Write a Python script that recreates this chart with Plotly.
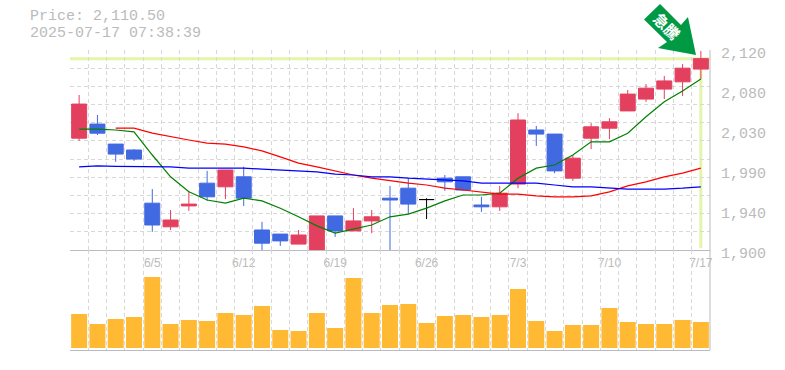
import plotly.graph_objects as go

dates = ["5/30","6/2","6/3","6/4","6/5","6/6","6/9","6/10","6/11","6/12","6/13","6/16","6/17","6/18","6/19","6/20","6/23","6/24","6/25","6/26","6/27","6/30","7/1","7/2","7/3","7/4","7/7","7/8","7/9","7/10","7/11","7/14","7/15","7/16","7/17"]
opens = [2023,2038.5,2016.5,2010,1951.5,1925.5,1948.5,1973.5,1969.5,1980.5,1922,1917.5,1906.5,1899,1937.5,1921,1932,1957,1968,1955.5,1979,1980.5,1949.5,1947.5,1972.5,2032,2027.5,1979,2023,2034,2053,2066,2077,2085,2099]
highs = [2070.5,2048.5,2016.5,2011,1967,1944,1965,1987,1988,1991.5,1931,1917.5,1922,1937.5,1937.5,1946,1944,1970.5,1979,1957,1982.5,1980.5,1958.5,1970.5,2050.5,2036.5,2027.5,2004.5,2039.5,2045,2076,2082.5,2091.5,2104.5,2119]
lows = [2020,2026.5,1997,1998,1920,1922,1943,1954,1956,1948.5,1900,1904.5,1906.5,1899,1914.5,1921,1918.5,1900,1939.5,1934,1965,1965,1942,1943,1968,2014.5,1984.5,1976,2011,2022,2053,2063,2066,2069.5,2088]
closes = [2060.5,2028.5,2005.5,2000,1927.5,1933,1950.5,1958.5,1988,1957,1907.5,1910,1916.5,1937.5,1921,1932,1936.5,1955,1950.5,1955.5,1975,1966,1947.5,1962.5,2043,2027.5,1987,2001,2035.5,2041,2071.5,2078,2086,2100,2110.5]
ma_short = [2033,2033,2032,2030,2004.5,1980.5,1964,1955,1951.5,1957,1954,1946,1936.5,1926.5,1918.5,1923,1927.5,1936.5,1939.5,1946,1954,1960.5,1960.5,1962.5,1979,1990,1993.5,2004.5,2019,2019,2028.5,2046.5,2063,2075,2088]
ma_mid = [None,None,2034,2034,2028.5,2024.5,2021,2017.5,2016.5,2013.5,2009,2002.5,1995.5,1991.5,1987,1982.5,1979,1976,1973.5,1971.5,1968,1966,1964,1961.5,1961.5,1959.5,1958.5,1958.5,1959.5,1964,1970.5,1975,1980.5,1984.5,1990]
ma_long = [1991.5,1992.5,1992,1992,1991.5,1991.5,1990,1990,1990,1990,1989,1988,1987,1986,1983.5,1982.5,1980.5,1980.5,1979,1978,1977,1976,1973.5,1973.5,1973.5,1973.5,1971.5,1969.5,1969.5,1968,1967,1967,1967,1968,1969.5]
volumes = [34,24,29,31,71,24,28,27,35,33,42,18,17,35,20,70,35,43,44,25,32,33,31,33,59,27,17,23,23,40,26,24,24,28,26]
price_ticks = [1900,1944,1988,2032,2076,2120]
price_labels = ["1,900","1,940","1,990","2,030","2,080","2,120"]
date_labels = ["6/5","6/12","6/19","6/26","7/3","7/10","7/17"]
last_price = 2110.5
title_lines = ["Price: 2,110.50","2025-07-17 07:38:39"]

W, H = 785, 370
L, R, T, M, B = 70, 710, 50, 250, 350
MONO = "Liberation Mono"
GREY = "#bbbbbb"; GRID = "#d8d8d8"; LIME = "#e3f5a9"
RED = "#e3405f"; BLUE = "#4169e1"; ORANGE = "#ffb933"
DASH = "4px,3px"

def subset(pred):
    idx = [i for i in range(len(dates)) if pred(opens[i], closes[i])]
    return dict(x=[dates[i] for i in idx], open=[opens[i] for i in idx], high=[highs[i] for i in idx],
                low=[lows[i] for i in idx], close=[closes[i] for i in idx])

fig = go.Figure()
for vals, col in [(ma_short, "#008000"), (ma_mid, "#ff0000"), (ma_long, "#0000ff")]:
    fig.add_trace(go.Scatter(x=dates, y=vals, mode="lines", line=dict(color=col, width=1.2), xaxis="x", yaxis="y",
                             showlegend=False, hoverinfo="skip", connectgaps=False))
for pred, col in [(lambda o, c: c > o, RED), (lambda o, c: c < o, BLUE), (lambda o, c: c == o, "#000000")]:
    fig.add_trace(go.Candlestick(**subset(pred), xaxis="x", yaxis="y", whiskerwidth=0,
        increasing=dict(line=dict(color=col, width=1), fillcolor=col),
        decreasing=dict(line=dict(color=col, width=1), fillcolor=col),
        showlegend=False, hoverinfo="skip"))
fig.add_trace(go.Bar(x=dates, y=volumes, marker=dict(color=ORANGE, line=dict(width=0)), xaxis="x2", yaxis="y2",
                     showlegend=False, hoverinfo="skip"))

xcommon = dict(type="category", categoryorder="array", categoryarray=dates, range=[-0.5, len(dates)-0.5],
               tickson="boundaries", tickmode="array", tickvals=dates, showgrid=True, gridcolor=GRID, griddash=DASH,
               gridwidth=1, zeroline=False, ticks="", domain=[L/W, R/W], showline=True, linecolor=GREY, linewidth=1,
               automargin=False)

def pts(*p):
    return "M" + " L".join("%.4f,%.4f" % (x/W, 1-y/H) for x, y in p) + " Z"

shapes = [
    dict(type="line", xref="x domain", yref="y", x0=0, x1=1, y0=last_price, y1=last_price, line=dict(color=LIME, width=3), layer="below"),
    dict(type="line", xref="x", yref="y", x0=dates[-1], x1=dates[-1], y0=1902, y1=last_price, line=dict(color=LIME, width=3), layer="below"),
    dict(type="line", xref="paper", yref="paper", x0=R/W, x1=R/W, y0=1-B/H, y1=1-T/H, line=dict(color=GREY, width=1)),
    dict(type="path", xref="paper", yref="paper", fillcolor="#009944", line=dict(width=0), layer="above",
         path=pts((660,4),(644,19.5),(667,42),(658,48),(696,55),(688,17),(681,25))),
]
annotations = [
    dict(text="急騰", xref="paper", yref="paper", x=666.5/W, y=1-26/H, showarrow=False, textangle=45,
         font=dict(family="Noto Sans CJK JP", size=15, color="#ffffff", weight="bold"), xanchor="center", yanchor="middle"),
    dict(text=title_lines[0], xref="paper", yref="paper", x=28/W, y=1-17/H, showarrow=False, xanchor="left", yanchor="middle",
         font=dict(family=MONO, size=15, color=GREY)),
    dict(text=title_lines[1], xref="paper", yref="paper", x=28/W, y=1-34/H, showarrow=False, xanchor="left", yanchor="middle",
         font=dict(family=MONO, size=15, color=GREY)),
]

fig.update_layout(
    template="none",
    width=W, height=H, margin=dict(l=0, r=0, t=0, b=0, autoexpand=False), paper_bgcolor="white", plot_bgcolor="white",
    autosize=False, bargap=0.125, boxgap=0.18, boxgroupgap=0, boxmode="overlay", showlegend=False,
    xaxis=dict(**xcommon, ticktext=[d if d in date_labels else "" for d in dates], anchor="y", rangeslider=dict(visible=False),
               tickangle=0, ticklabelstandoff=2, tickfont=dict(family="Liberation Sans", size=12, color=GREY)),
    xaxis2=dict(**xcommon, showticklabels=False, anchor="y2", matches="x"),
    yaxis=dict(domain=[1-M/H, 1-T/H], range=[1900, 2120], side="right", anchor="x", tickmode="array", tickvals=price_ticks,
               ticktext=price_labels, showgrid=False, zeroline=False, ticks="", showline=False, automargin=False,
               tickfont=dict(family=MONO, size=15, color=GREY), ticklabelshift=3, ticklabelstandoff=10,
               minor=dict(dtick=20, tick0=1900, showgrid=True, gridcolor=GRID, griddash=DASH, gridwidth=1, ticks="")),
    yaxis2=dict(domain=[1-B/H, 1-M/H], range=[-2, 98], anchor="x2", showgrid=False, zeroline=False, showticklabels=False, ticks="", showline=False, automargin=False),
    shapes=shapes, annotations=annotations,
)
fig.write_html("out.html", config=dict(displayModeBar=False), post_script="document.body.style.margin='0';")
